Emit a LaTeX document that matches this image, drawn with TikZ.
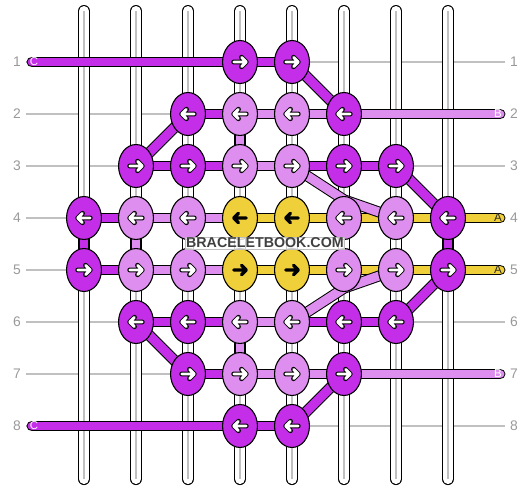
\documentclass[tikz,border=0pt]{standalone}
\usepackage{fontspec}
\setmainfont{Liberation Sans}
\usetikzlibrary{shapes.geometric}
\definecolor{darkknot}{RGB}{196,46,232}
\definecolor{lightknot}{RGB}{222,142,238}
\definecolor{yellowknot}{RGB}{240,208,58}
\definecolor{guidegray}{RGB}{192,192,192}
\begin{document}
\begin{tikzpicture}[
    guide/.style={guidegray,line width=0.55pt},
    thread/.style={black,line width=0.55pt,double=white,double distance=5.5pt,line cap=round},
    strand/.style={black,line width=0.55pt,double=#1,double distance=4.9pt},
    endstrand/.style={strand=#1,line cap=round},
    knot/.style={ellipse,draw=black,line width=0.6pt,fill=#1,minimum width=19.1pt,minimum height=23.5pt,inner sep=0pt},
    rowlabel/.style={text=black!40,font=\fontsize{7.6}{8}\selectfont},
    endlabel/.style={font=\fontsize{6.3}{7}\selectfont,inner sep=0pt},
    arw/.pic={
      \draw[black,line width=2.7pt,line cap=round,line join=round] (-0.12,0) -- (0.12,0) (0.03,0.09) -- (0.12,0) -- (0.03,-0.09);
      \draw[white,line width=1.6pt,line cap=round,line join=round] (-0.12,0) -- (0.12,0) (0.03,0.09) -- (0.12,0) -- (0.03,-0.09);
    },
    arwdark/.pic={
      \draw[black,line width=1.9pt,line cap=round,line join=round] (-0.12,0) -- (0.12,0) (0.03,0.09) -- (0.12,0) -- (0.03,-0.09);
    }
  ]
  \useasboundingbox (-0.6154,0.1923) rectangle (9.6154,-9.1923);

  \foreach \row in {1,...,8} {
    \coordinate (gl\row) at (-0.115,-\row);
    \coordinate (gr\row) at (9.096,-\row);
    \draw[guide] (gl\row) -- (gr\row);
    \node[rowlabel] (ll\row) at (-0.29,-\row) {\row};
    \node[rowlabel] (rl\row) at (9.27,-\row) {\row};
  }

  \foreach \col in {1,...,8} {
    \coordinate (top\col) at (\col,-0.02);
    \coordinate (bot\col) at (\col,-9.02);
    \draw[thread] (top\col) -- (bot\col);
    \draw[guidegray,line width=0.9pt] (top\col) -- (bot\col);
    \foreach \row in {1,...,8}
      \coordinate (p\col\row) at (\col,-\row);
  }

  % strands coming in from the sides
  \coordinate (cl1) at (0,-1);
  \coordinate (cl8) at (0,-8);
  \coordinate (cr2) at (9,-2);
  \coordinate (cr4) at (9,-4);
  \coordinate (cr5) at (9,-5);
  \coordinate (cr7) at (9,-7);
  \draw[endstrand=darkknot] (cl1) -- (p41);
  \draw[endstrand=darkknot] (cl8) -- (p48);
  \draw[endstrand=lightknot] (p62) -- (cr2);
  \draw[endstrand=lightknot] (p67) -- (cr7);
  \draw[endstrand=yellowknot] (p84) -- (cr4);
  \draw[endstrand=yellowknot] (p85) -- (cr5);
  \node[endlabel,text=white!90!lightknot] (lc1) at (0.04,-1) {C};
  \node[endlabel,text=white!90!lightknot] (lc8) at (0.04,-8) {C};
  \node[endlabel,text=white] (lb2) at (8.96,-2) {B};
  \node[endlabel,text=white] (lb7) at (8.96,-7) {B};
  \node[endlabel,text=black!85] (la4) at (8.96,-4) {A};
  \node[endlabel,text=black!85] (la5) at (8.96,-5) {A};

  \foreach \a/\b/\row/\k in {4/5/1/darkknot,
      3/4/2/darkknot, 4/5/2/lightknot, 5/6/2/lightknot,
      2/3/3/darkknot, 3/4/3/darkknot, 4/5/3/lightknot, 5/6/3/darkknot, 6/7/3/darkknot,
      1/2/4/darkknot, 2/3/4/lightknot, 3/4/4/lightknot, 4/5/4/yellowknot, 5/6/4/yellowknot, 6/7/4/yellowknot, 7/8/4/yellowknot,
      1/2/5/darkknot, 2/3/5/lightknot, 3/4/5/lightknot, 4/5/5/yellowknot, 5/6/5/yellowknot, 6/7/5/yellowknot, 7/8/5/yellowknot,
      2/3/6/darkknot, 3/4/6/darkknot, 4/5/6/lightknot, 5/6/6/darkknot, 6/7/6/darkknot,
      3/4/7/darkknot, 4/5/7/lightknot, 5/6/7/lightknot,
      4/5/8/darkknot}
    \draw[strand=\k] (p\a\row) -- (p\b\row);

  \draw[strand=lightknot] (p42) -- (p43);
  \draw[strand=lightknot] (p46) -- (p47);
  \draw[strand=darkknot] (p14) -- (p15);
  \draw[strand=lightknot] (p24) -- (p25);
  \draw[strand=darkknot] (p84) -- (p85);

  \draw[strand=darkknot] (p51) -- (p62);
  \draw[strand=darkknot] (p32) -- (p23);
  \draw[strand=darkknot] (p73) -- (p84);
  \draw[strand=darkknot] (p85) -- (p76);
  \draw[strand=darkknot] (p26) -- (p37);
  \draw[strand=darkknot] (p67) -- (p58);
  \coordinate (bnd1) at (6,-3.65);
  \coordinate (bnd2) at (6,-5.35);
  \draw[strand=lightknot,line join=round] (p53) -- (bnd1) -- (p74);
  \draw[strand=lightknot,line join=round] (p75) -- (bnd2) -- (p56);

  \foreach \col/\row/\k/\d in {4/1/darkknot/1, 5/1/darkknot/1,
      3/2/darkknot/-1, 4/2/lightknot/-1, 5/2/lightknot/-1, 6/2/darkknot/-1,
      2/3/darkknot/1, 3/3/darkknot/1, 4/3/lightknot/1, 5/3/lightknot/1, 6/3/darkknot/1, 7/3/darkknot/1,
      1/4/darkknot/-1, 2/4/lightknot/-1, 3/4/lightknot/-1, 6/4/lightknot/-1, 7/4/lightknot/-1, 8/4/darkknot/-1,
      1/5/darkknot/1, 2/5/lightknot/1, 3/5/lightknot/1, 6/5/lightknot/1, 7/5/lightknot/1, 8/5/darkknot/1,
      2/6/darkknot/-1, 3/6/darkknot/-1, 4/6/lightknot/-1, 5/6/lightknot/-1, 6/6/darkknot/-1, 7/6/darkknot/-1,
      3/7/darkknot/1, 4/7/lightknot/1, 5/7/lightknot/1, 6/7/darkknot/1,
      4/8/darkknot/-1, 5/8/darkknot/-1} {
    \node[knot=\k] (k\col\row) at (p\col\row) {};
    \pic[xscale=\d] at (k\col\row) {arw};
  }
  \foreach \col/\row/\d in {4/4/-1, 5/4/-1, 4/5/1, 5/5/1} {
    \node[knot=yellowknot] (k\col\row) at (p\col\row) {};
    \pic[xscale=\d] at (k\col\row) {arwdark};
  }

  \node[fill=white,fill opacity=0.8,text opacity=1,draw=black!25,line width=0.4pt,inner sep=0.5pt,text=black!75,font=\bfseries\fontsize{7.8}{8}\selectfont] (mark) at (4.48,-4.48) {BRACELETBOOK.COM};
\end{tikzpicture}
\end{document}
